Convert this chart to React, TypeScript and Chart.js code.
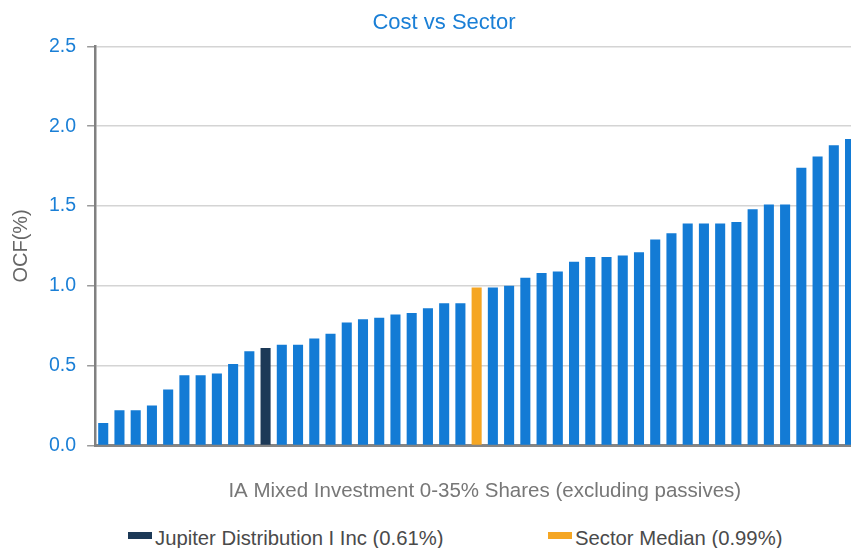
import React, { useEffect, useRef } from "react";
import { Chart, registerables } from "chart.js";

Chart.register(...registerables);

const ocfValues: number[] = [
  0.14, 0.22, 0.22, 0.25, 0.35, 0.44, 0.44, 0.45, 0.51, 0.59,
  0.61, 0.63, 0.63, 0.67, 0.70, 0.77, 0.79, 0.80, 0.82, 0.83,
  0.86, 0.89, 0.89, 0.99, 0.99, 1.00, 1.05, 1.08, 1.09, 1.15,
  1.18, 1.18, 1.19, 1.21, 1.29, 1.33, 1.39, 1.39, 1.39, 1.40,
  1.48, 1.51, 1.51, 1.74, 1.81, 1.88, 1.92, 1.98,
];
const fundLabels: string[] = ocfValues.map((_, i) => `Fund ${i + 1}`);
const fundIndex = 10; // Jupiter Distribution I Inc
const medianIndex = 23; // Sector Median
const yTicks: number[] = [0, 0.5, 1.0, 1.5, 2.0, 2.5];
const legendItems: string[] = ["Jupiter Distribution I Inc (0.61%)", "Sector Median (0.99%)"];
const chartTitle = "Cost vs Sector";
const xTitle = "IA Mixed Investment 0-35% Shares (excluding passives)";
const yTitle = "OCF(%)";

const BLUE = "#137bd5";
const NAVY = "#1c3957";
const ORANGE = "#f5a623";
const FONT = "'Liberation Sans', Arial, Helvetica, sans-serif";

export default function App() {
  const canvasRef = useRef<HTMLCanvasElement | null>(null);

  useEffect(() => {
    if (!canvasRef.current) return;
    const colors = ocfValues.map((_, i) =>
      i === fundIndex ? NAVY : i === medianIndex ? ORANGE : BLUE
    );
    const chart = new Chart(canvasRef.current, {
      type: "bar",
      data: {
        labels: fundLabels,
        datasets: [
          {
            data: ocfValues,
            backgroundColor: colors,
            borderWidth: 0,
            categoryPercentage: 1,
            barPercentage: 0.62,
          },
        ],
      },
      options: {
        animation: false,
        responsive: true,
        maintainAspectRatio: false,
        layout: { padding: { left: 0, right: 0, top: 0, bottom: 0 } },
        plugins: {
          legend: { display: false },
          tooltip: { enabled: false },
          title: {
            display: true,
            text: chartTitle,
            color: "#1a7fd6",
            font: { family: FONT, size: 22, weight: "normal" },
            padding: { top: 10, bottom: 10 },
          },
        },
        scales: {
          x: {
            type: "category",
            grid: { display: false, drawTicks: false },
            border: { display: true, color: "#858585", width: 3 },
            ticks: { display: false },
            title: {
              display: true,
              text: xTitle,
              color: "#777777",
              font: { family: FONT, size: 20.5 },
              padding: { top: 34, bottom: 6 },
            },
          },
          y: {
            min: 0,
            max: 2.5,
            afterBuildTicks: (axis: any) => {
              axis.ticks = yTicks.map((v) => ({ value: v }));
            },
            grid: {
              color: "#d4d4d4",
              lineWidth: 1.5,
              tickColor: "#9a9a9a",
              tickLength: 8,
              drawTicks: true,
            },
            border: { display: true, color: "#808080", width: 2.5 },
            ticks: {
              color: "#1a7fd6",
              font: { family: FONT, size: 19.5 },
              padding: 11,
              callback: (v: any) => Number(v).toFixed(1),
            },
            title: {
              display: true,
              text: yTitle,
              color: "#666666",
              font: { family: FONT, size: 20 },
              padding: { top: 9, bottom: 5 },
            },
          },
          yRightSpace: {
            position: "right",
            display: true,
            grid: { display: false, drawTicks: false },
            border: { display: false },
            ticks: { display: false },
            afterFit: (scale: any) => {
              scale.width = 13.6;
            },
          },
        },
      },
    });
    return () => chart.destroy();
  }, []);

  return (
    <div
      style={{
        position: "fixed",
        left: 0,
        top: 0,
        width: "851px",
        height: "548px",
        overflow: "hidden",
        background: "#ffffff",
      }}
    >
      <div style={{ position: "absolute", left: 0, top: 0, width: "888px", height: "510px" }}>
        <canvas ref={canvasRef} />
      </div>
      <div
        style={{
          position: "absolute",
          left: "128px",
          top: "528px",
          display: "flex",
          alignItems: "flex-start",
          fontFamily: FONT,
          fontSize: "20.3px",
          lineHeight: "21px",
          color: "#4a4a4a",
          whiteSpace: "nowrap",
        }}
      >
        <div style={{ display: "flex", alignItems: "flex-start", width: "420px" }}>
          <span style={{ display: "inline-block", width: "24px", height: "7px", background: NAVY, marginTop: "4px", marginRight: "3px" }} />
          <span>{legendItems[0]}</span>
        </div>
        <div style={{ display: "flex", alignItems: "flex-start" }}>
          <span style={{ display: "inline-block", width: "24px", height: "7px", background: ORANGE, marginTop: "4px", marginRight: "3px" }} />
          <span>{legendItems[1]}</span>
        </div>
      </div>
    </div>
  );
}
